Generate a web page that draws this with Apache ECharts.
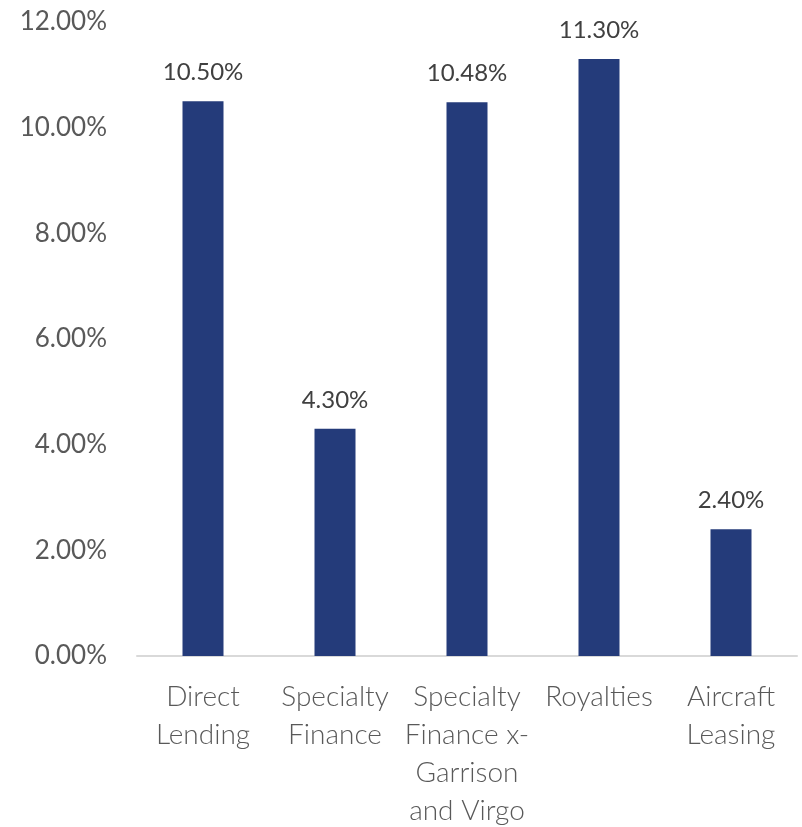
<!DOCTYPE html>
<html>
<head>
<meta charset="utf-8">
<script src="https://cdn.jsdelivr.net/npm/echarts@6/dist/echarts.min.js"></script>
<style>
  html, body { margin: 0; padding: 0; background: #fff; }
  #chart { width: 802px; height: 827px; }
</style>
</head>
<body>
<div id="chart"></div>
<script>
const categories = [
  "Direct\nLending",
  "Specialty\nFinance",
  "Specialty\nFinance x-\nGarrison\nand Virgo",
  "Royalties",
  "Aircraft\nLeasing"
];
const values = [10.5, 4.3, 10.48, 11.3, 2.4];
const yTicks = { min: 0, max: 12, interval: 2 };

const font = "Lato, 'Open Sans', sans-serif";

let myChart = echarts.init(document.getElementById("chart"));
myChart.setOption({
  animation: false,
  grid: {
    left: 137,
    right: 5,
    top: 22,
    bottom: 171,
    containLabel: false,
    outerBoundsMode: "none",
  },
  xAxis: {
    type: "category",
    data: categories,
    axisLine: { show: true, lineStyle: { color: "#d9d9d9", width: 2 } },
    axisTick: { show: false },
    axisLabel: {
      interval: 0,
      margin: 22,
      color: "#595959",
      fontFamily: font,
      fontWeight: 300,
      fontSize: 28,
      lineHeight: 38,
      verticalAlign: "top",
    },
  },
  yAxis: {
    type: "value",
    min: yTicks.min,
    max: yTicks.max,
    interval: yTicks.interval,
    axisLine: { show: false },
    axisTick: { show: false },
    splitLine: { show: false },
    axisLabel: {
      margin: 30,
      color: "#595959",
      fontFamily: font,
      fontSize: 26,
      formatter: (v) => v.toFixed(2) + "%",
    },
  },
  series: [
    {
      type: "bar",
      data: values,
      barWidth: 41,
      itemStyle: { color: "#243b7a" },
      label: {
        show: true,
        position: "top",
        distance: 17,
        color: "#404040",
        fontFamily: font,
        fontSize: 24,
        formatter: (p) => p.value.toFixed(2) + "%",
      },
    },
  ],
});
</script>
</body>
</html>
